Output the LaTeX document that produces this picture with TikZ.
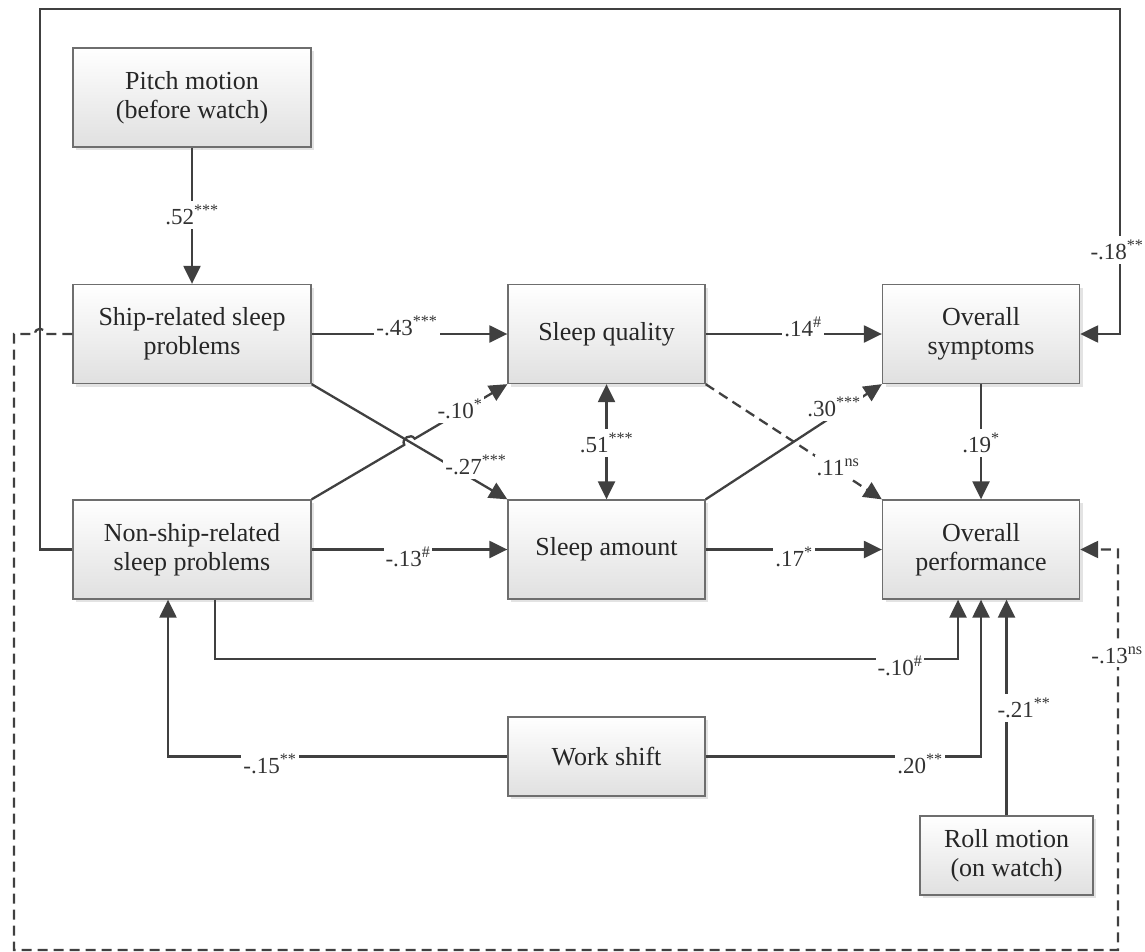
\documentclass[tikz,border=0pt]{standalone}
\usepackage{fontspec}
\setmainfont{Liberation Serif}
\usetikzlibrary{arrows.meta,shadows,calc}
\definecolor{ln}{HTML}{404040}
\definecolor{bd}{HTML}{6E6E6E}
\definecolor{bb}{HTML}{E0E0E0}
\newcommand\sg[1]{\textsuperscript{#1}}
\begin{document}
\begin{tikzpicture}[x=1pt,y=-1pt,
  box/.style={draw=bd, line width=1.3pt, top color=white, bottom color=bb, align=center, inner sep=0pt,
    font=\fontsize{26}{29}\selectfont, text=black!85,
    drop shadow={opacity=0.22, shadow xshift=3pt, shadow yshift=-3pt}},
  wide/.style={box, minimum width=238pt, minimum height=99pt},
  narrow/.style={box, minimum width=197pt, minimum height=99pt},
  conn/.style={draw=ln, line width=2.3pt},
  arr/.style={conn, -{Triangle[length=18pt,width=17pt]}},
  dsh/.style={dash pattern=on 10pt off 6pt},
  lab/.style={fill=white, inner xsep=2pt, inner ysep=4pt, text=black!80, font=\fontsize{23}{25}\selectfont}]
\useasboundingbox (0,0) rectangle (1145,952);

% nodes
\node[wide] (pitch) at (192,97.5) {Pitch motion\\(before watch)};
\node[wide] (ship) at (192,334) {Ship-related sleep\\problems};
\node[wide] (ns) at (192,549.5) {Non-ship-related\\sleep problems};
\node[narrow] (sq) at (606.5,334) {Sleep quality};
\node[narrow] (sa) at (606.5,549.5) {Sleep amount};
\node[narrow] (sym) at (981,334) {Overall\\symptoms};
\node[narrow] (perf) at (981,549.5) {Overall\\performance};
\node[narrow, minimum height=79pt] (work) at (606.5,756.5) {Work shift};
\node[box, minimum width=173pt, minimum height=79pt] (roll) at (1006.5,855.5) {Roll motion\\(on watch)};

% helper coordinates for the line hop
\coordinate (h1) at (404.3,444.8);
\coordinate (h1c) at (400.7,438.8);
\coordinate (h2c) at (411.1,432.7);
\coordinate (h2) at (414.7,438.7);

% connectors
\draw[arr] (pitch) -- (ship);
\node[lab] at (192,215) {.52\sg{***}};

\draw[arr] (ship) -- (sq);
\node[lab] at (407,326) {-.43\sg{***}};

\draw[arr] (sq) -- (sym);
\node[lab] at (803,327) {.14\sg{\#}};

\draw[arr] (ship.south east) -- (sa.north west);
\node[lab] at (476,465) {-.27\sg{***}};

\draw[arr] (ns.north east) -- (h1) .. controls (h1c) and (h2c) .. (h2) -- (sq.south west);
\node[lab] at (460,409) {-.10\sg{*}};

\draw[conn, {Triangle[length=18pt,width=17pt]}-{Triangle[length=18pt,width=17pt]}] (sq) -- (sa);
\node[lab] at (606.5,443) {.51\sg{***}};

\draw[arr] (sa.north east) -- (sym.south west);
\node[lab] at (834,407) {.30\sg{***}};

\draw[arr, dsh] (sq.south east) -- (perf.north west);
\node[lab] at (838,467) {.11\sg{ns}};

\draw[arr] (sym) -- (perf);
\node[lab] at (981,443) {.19\sg{*}};

\draw[arr] (ns) -- (sa);
\node[lab] at (408,557) {-.13\sg{\#}};

\draw[arr] (sa) -- (perf);
\node[lab] at (794,557) {.17\sg{*}};

\draw[arr] ($(ns.south)+(23,0)$) -- ++(0,59) -| ($(perf.south)+(-23,0)$);
\node[lab] at (900,666) {-.10\sg{\#}};

\draw[arr] (work.west) -| ($(ns.south)+(-24,0)$);
\node[lab] at (270,764) {-.15\sg{**}};

\draw[arr] (work.east) -| (perf.south);
\node[lab] at (920,764) {.20\sg{**}};

\draw[arr] (roll.north) -- (roll.north |- perf.south);
\node[lab] at (1024,708) {-.21\sg{**}};

\draw[arr] (ns.west) -- (40,549.5) -- (40,9) -- (1120,9) |- (sym.east);
\node[lab] at (1117,250) {-.18\sg{**}};

\draw[arr, dsh] (ship.west) -- (45,334) .. controls (45,327) and (35,327) .. (35,334) -- (14,334) -- (14,950) -- (1118,950) |- (perf.east);
\node[lab] at (1117,655) {-.13\sg{ns}};
\end{tikzpicture}
\end{document}
